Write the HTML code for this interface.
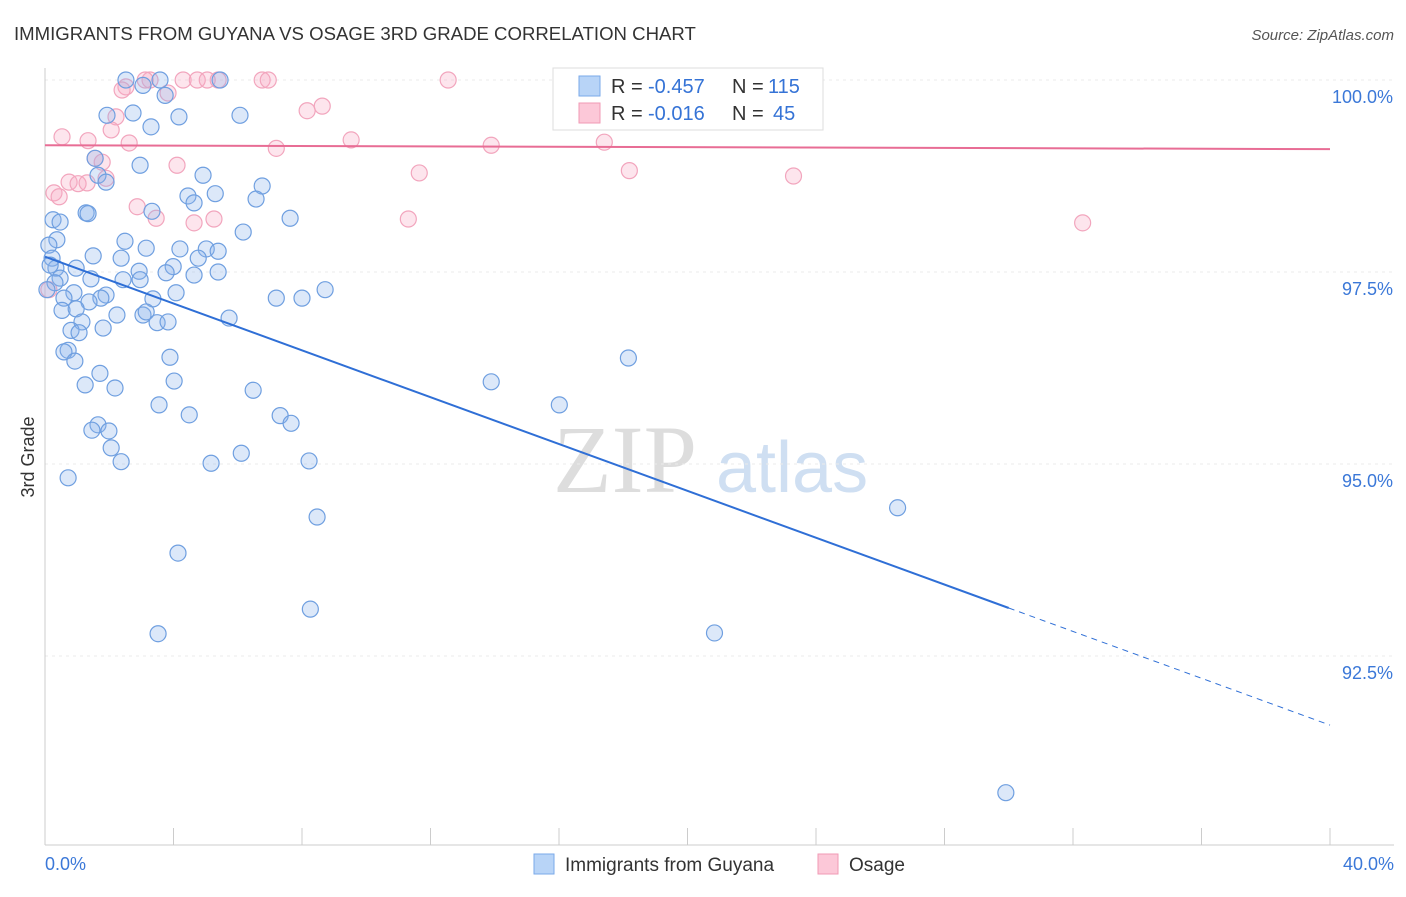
<!DOCTYPE html>
<html><head><meta charset="utf-8"><style>
body{margin:0;background:#fff;font-family:"Liberation Sans",sans-serif;}
</style></head><body>
<svg id="chart" width="1406" height="892" xmlns="http://www.w3.org/2000/svg" font-family="Liberation Sans, sans-serif">
<text x="14" y="40" font-size="18.6" fill="#333">IMMIGRANTS FROM GUYANA VS OSAGE 3RD GRADE CORRELATION CHART</text>
<text x="1394" y="40" font-size="15" fill="#555" font-style="italic" text-anchor="end">Source: ZipAtlas.com</text>
<text x="34" y="457" font-size="18" fill="#333" text-anchor="middle" transform="rotate(-90 34 457)">3rd Grade</text>
<g><text x="553" y="492" font-size="96" fill="#ddd" font-family="Liberation Serif, serif">ZIP</text><text x="716" y="492" font-size="72" fill="#cfdff2">atlas</text></g>
<g id="grid"></g><g id="axes"></g><g id="pts"></g><g id="lines"></g>
<g>
<rect x="553" y="68" width="270" height="62" fill="#fff" stroke="#ddd"/>
<rect x="579" y="76" width="21" height="20" fill="#b8d4f7" stroke="#7aaaea"/>
<rect x="579" y="103" width="21" height="20" fill="#fcc8d8" stroke="#f09ab5"/>
<text x="611" y="93" font-size="20" fill="#333">R =</text>
<text x="648" y="93" font-size="20" fill="#3573d6">-0.457</text>
<text x="732" y="93" font-size="20" fill="#333">N =</text>
<text x="768" y="93" font-size="20" fill="#3573d6">115</text>
<text x="611" y="120" font-size="20" fill="#333">R =</text>
<text x="648" y="120" font-size="20" fill="#3573d6">-0.016</text>
<text x="732" y="120" font-size="20" fill="#333">N =</text>
<text x="773" y="120" font-size="20" fill="#3573d6">45</text>
</g>
<g>
<rect x="534" y="854" width="20" height="20" fill="#b8d4f7" stroke="#7aaaea"/>
<text x="565" y="871" font-size="19" fill="#333">Immigrants from Guyana</text>
<rect x="818" y="854" width="20" height="20" fill="#fcc8d8" stroke="#f09ab5"/>
<text x="849" y="871" font-size="19" fill="#333">Osage</text>
</g>
</svg>
<script>
const blueX=[2.52,3.58,5.45,3.05,3.74,1.93,2.74,4.17,6.07,3.3,1.56,2.96,4.92,1.65,1.9,6.76,4.45,5.3,4.64,6.57,3.33,1.28,1.34,0.25,0.47,7.63,6.17,0.37,2.49,0.12,3.15,4.2,5.02,5.39,1.5,2.37,4.77,0.22,0.34,0.97,3.99,2.93,5.39,3.77,4.64,0.47,1.43,2.43,2.96,0.31,0.9,8.72,4.08,1.9,0.59,1.74,3.36,7.2,8.0,1.37,0.53,0.97,2.24,3.05,3.15,5.73,1.15,3.49,3.83,1.81,0.81,1.06,0.72,0.59,3.89,18.16,0.93,1.71,4.02,13.89,1.25,2.18,6.48,3.55,16.01,4.49,7.32,1.65,7.66,1.46,1.99,2.06,6.11,2.37,5.17,8.22,0.72,26.54,8.47,4.14,8.26,3.52,20.84,29.91,0.06,0.16];
const blueY=[100,100,100,99.93,99.8,99.54,99.57,99.52,99.54,99.39,98.98,98.89,98.76,98.76,98.67,98.62,98.49,98.52,98.4,98.45,98.29,98.27,98.26,98.18,98.15,98.2,98.02,97.92,97.9,97.85,97.81,97.8,97.8,97.77,97.71,97.68,97.68,97.68,97.55,97.55,97.57,97.51,97.5,97.49,97.46,97.42,97.41,97.4,97.4,97.36,97.23,97.27,97.23,97.2,97.16,97.16,97.15,97.16,97.16,97.11,97.0,97.02,96.94,96.94,96.98,96.9,96.85,96.84,96.85,96.77,96.74,96.71,96.48,96.46,96.39,96.38,96.34,96.18,96.08,96.07,96.03,95.99,95.96,95.77,95.77,95.64,95.63,95.51,95.53,95.44,95.43,95.21,95.14,95.03,95.01,95.04,94.82,94.43,94.31,93.84,93.11,92.79,92.8,90.72,97.27,97.59];
const pinkX=[3.27,3.12,4.3,4.74,5.05,5.39,6.76,6.95,12.55,22.8,2.52,2.4,3.83,8.63,8.16,2.21,2.06,0.53,1.34,2.62,9.53,13.89,17.41,7.2,1.56,1.78,4.11,11.65,18.19,23.3,1.9,0.75,1.03,0.28,0.44,2.87,3.46,5.26,11.31,4.64,32.3,0.12,1.31];
const pinkY=[100,100,100,100,100,100,100,100,100,100,99.91,99.87,99.83,99.66,99.6,99.52,99.35,99.26,99.21,99.18,99.22,99.15,99.19,99.11,98.98,98.93,98.89,98.79,98.82,98.75,98.72,98.67,98.65,98.53,98.48,98.35,98.2,98.19,98.19,98.14,98.14,97.27,98.66];
const blueTrend=[97.70,91.60], pinkTrend=[99.15,99.10];
const yTicks=[100,97.5,95,92.5], yTickLabels=["100.0%","97.5%","95.0%","92.5%"];
const xTicks=[0,4,8,12,16,20,24,28,32,36,40];
const NS="http://www.w3.org/2000/svg";
const sx=v=>45+v/40*1285, sy=v=>80+(100-v)*76.8;
function mk(p,t,a){const e=document.createElementNS(NS,t);for(const k in a)e.setAttribute(k,a[k]);document.getElementById(p).appendChild(e);return e;}
yTicks.forEach((v,i)=>{
 const l=mk('grid','line',{x1:45,x2:1394,y1:sy(v),y2:sy(v),stroke:'#ebebeb','stroke-dasharray':'3,4'});
 
 
 const t=mk('axes','text',{x:1393,y:sy(v)+23,'font-size':18,fill:'#3b78d8','text-anchor':'end'});t.textContent=yTickLabels[i];
 
 
});
const ax=mk('axes','line',{x1:45,x2:45,y1:68,y2:845,stroke:'#ccc'});


const bx=mk('axes','line',{x1:45,x2:1394,y1:845,y2:845,stroke:'#ccc'});


xTicks.forEach(v=>{const l=mk('axes','line',{x1:sx(v),x2:sx(v),y1:828,y2:845,stroke:'#ccc'});
 
 });
let t0=mk('axes','text',{x:45,y:870,'font-size':18,fill:'#3b78d8'});t0.textContent='0.0%';


let t1=mk('axes','text',{x:1394,y:870,'font-size':18,fill:'#3b78d8','text-anchor':'end'});t1.textContent='40.0%';


pinkX.forEach((x,i)=>{const c=mk('pts','circle',{cx:sx(x),cy:sy(pinkY[i]),r:8,fill:'rgba(248,170,195,0.3)',stroke:'#f2a5bd','stroke-width':1.2});
 
 });
blueX.forEach((x,i)=>{const c=mk('pts','circle',{cx:sx(x),cy:sy(blueY[i]),r:8,fill:'rgba(140,180,235,0.3)',stroke:'#6f9fe0','stroke-width':1.2});
 
 });
const bAt=x=>blueTrend[0]+(blueTrend[1]-blueTrend[0])*x/40;
let bl=mk('lines','line',{x1:sx(0),y1:sy(bAt(0)),x2:sx(30),y2:sy(bAt(30)),stroke:'#2f6fd6','stroke-width':2});


let bd=mk('lines','line',{x1:sx(30),y1:sy(bAt(30)),x2:sx(40),y2:sy(bAt(40)),stroke:'#2f6fd6','stroke-width':1,'stroke-dasharray':'6,5'});


let pl=mk('lines','line',{x1:sx(0),y1:sy(pinkTrend[0]),x2:sx(40),y2:sy(pinkTrend[1]),stroke:'#e86d95','stroke-width':2});


</script>
</body></html>
